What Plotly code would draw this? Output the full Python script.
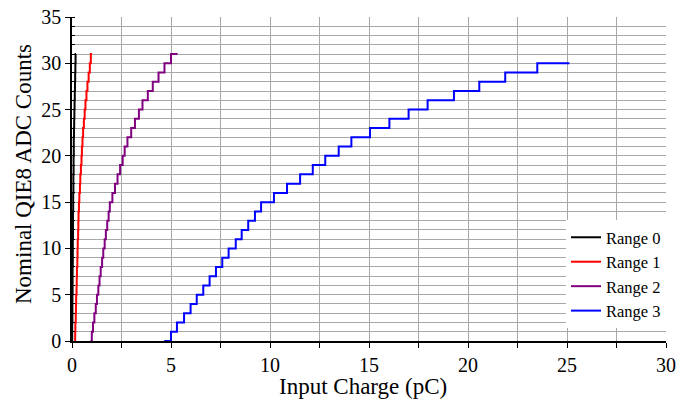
import plotly.graph_objects as go

# ADC count levels (last value repeated to draw the final flat step)
counts_r012 = [0, 1, 2, 3, 4, 5, 6, 7, 8, 9, 10, 11, 12, 13, 14, 15, 16, 17, 18, 19,
               20, 21, 22, 23, 24, 25, 26, 27, 28, 29, 30, 31, 31]
counts_r3 = [0, 1, 2, 3, 4, 5, 6, 7, 8, 9, 10, 11, 12, 13, 14, 15, 16, 17, 18, 19,
             20, 21, 22, 23, 24, 25, 26, 27, 28, 29, 30, 30]

# Input charge (pC) where each count starts, plus end of last bin
range0_q = [0.00, 0.01, 0.01, 0.02, 0.02, 0.02, 0.03, 0.03, 0.03, 0.04, 0.04, 0.04,
            0.05, 0.05, 0.05, 0.06, 0.06, 0.07, 0.07, 0.08, 0.08, 0.09, 0.09, 0.10,
            0.11, 0.12, 0.13, 0.14, 0.15, 0.16, 0.17, 0.18, 0.20]
range1_q = [0.14, 0.16, 0.17, 0.19, 0.20, 0.21, 0.23, 0.24, 0.25, 0.27, 0.28, 0.29,
            0.31, 0.32, 0.33, 0.35, 0.37, 0.40, 0.42, 0.45, 0.48, 0.50, 0.53, 0.56,
            0.60, 0.64, 0.68, 0.73, 0.78, 0.84, 0.90, 0.95, 1.01]
range2_q = [0.93, 1.00, 1.06, 1.13, 1.20, 1.26, 1.33, 1.39, 1.45, 1.52, 1.58, 1.65,
            1.71, 1.78, 1.85, 1.91, 2.04, 2.17, 2.30, 2.43, 2.56, 2.66, 2.80, 2.99,
            3.18, 3.38, 3.56, 3.83, 4.08, 4.37, 4.67, 5.00, 5.33]
range3_q = [4.66, 5.00, 5.30, 5.66, 5.99, 6.30, 6.63, 6.95, 7.27, 7.59, 7.91, 8.27,
            8.57, 8.90, 9.24, 9.55, 10.20, 10.86, 11.52, 12.16, 12.79, 13.47, 14.11,
            15.05, 16.03, 17.00, 17.96, 19.29, 20.57, 21.88, 23.50, 25.12]

font = "Liberation Serif, Times New Roman, serif"

fig = go.Figure()
series = [
    ("Range 0", range0_q, counts_r012, "#000000"),
    ("Range 1", range1_q, counts_r012, "#ff0000"),
    ("Range 2", range2_q, counts_r012, "#800080"),
    ("Range 3", range3_q, counts_r3, "#0000ff"),
]
for name, q, c, color in series:
    fig.add_trace(go.Scatter(
        x=q, y=c, name=name, mode="lines",
        line=dict(color=color, width=2, shape="hv"),
    ))

fig.update_layout(
    width=688,
    height=402,
    plot_bgcolor="white",
    paper_bgcolor="white",
    font=dict(family=font, size=20, color="black"),
    margin=dict(l=72, r=22, t=17, b=61),
    showlegend=True,
    legend=dict(
        x=1, y=0.04, xanchor="right", yanchor="bottom",
        bgcolor="white", borderwidth=0,
        font=dict(size=16.5, family=font),
        tracegroupgap=0, itemwidth=30,
    ),
)

# axis titles as annotations so they can be placed like the original
fig.add_annotation(text="Input Charge (pC)", xref="paper", yref="paper",
                   x=0.5, y=0, xshift=-6, yshift=-45, yanchor="middle",
                   showarrow=False, font=dict(size=23, family=font))
fig.add_annotation(text="Nominal QIE8 ADC Counts", xref="paper", yref="paper",
                   x=0, y=0.5, xshift=-49, yshift=5, xanchor="center", textangle=-90,
                   showarrow=False, font=dict(size=23, family=font))

fig.update_xaxes(
    range=[0, 30], dtick=5, tick0=0, automargin=False,
    showline=True, linecolor="black", linewidth=1.5,
    ticks="outside", ticklen=5, tickcolor="black",
    showgrid=True, gridcolor="#a8a8a8", gridwidth=1,
    minor=dict(dtick=2.5, showgrid=True, gridcolor="#a8a8a8",
               ticks="outside", ticklen=5, tickcolor="black"),
    zeroline=False,
)
fig.update_yaxes(
    range=[0, 35], dtick=5, tick0=0, automargin=False,
    showline=True, linecolor="black", linewidth=1.5,
    ticks="outside", ticklen=5, tickcolor="black",
    showgrid=True, gridcolor="#a8a8a8", gridwidth=1,
    minor=dict(dtick=1, showgrid=True, gridcolor="#a8a8a8",
               ticks="inside", ticklen=3, tickcolor="black"),
    zeroline=False,
)

# drop the page's default body margin so the figure sits at the window corner
fig.write_html("out.html", config={"displayModeBar": False},
               post_script="document.body.style.margin='0px';")
